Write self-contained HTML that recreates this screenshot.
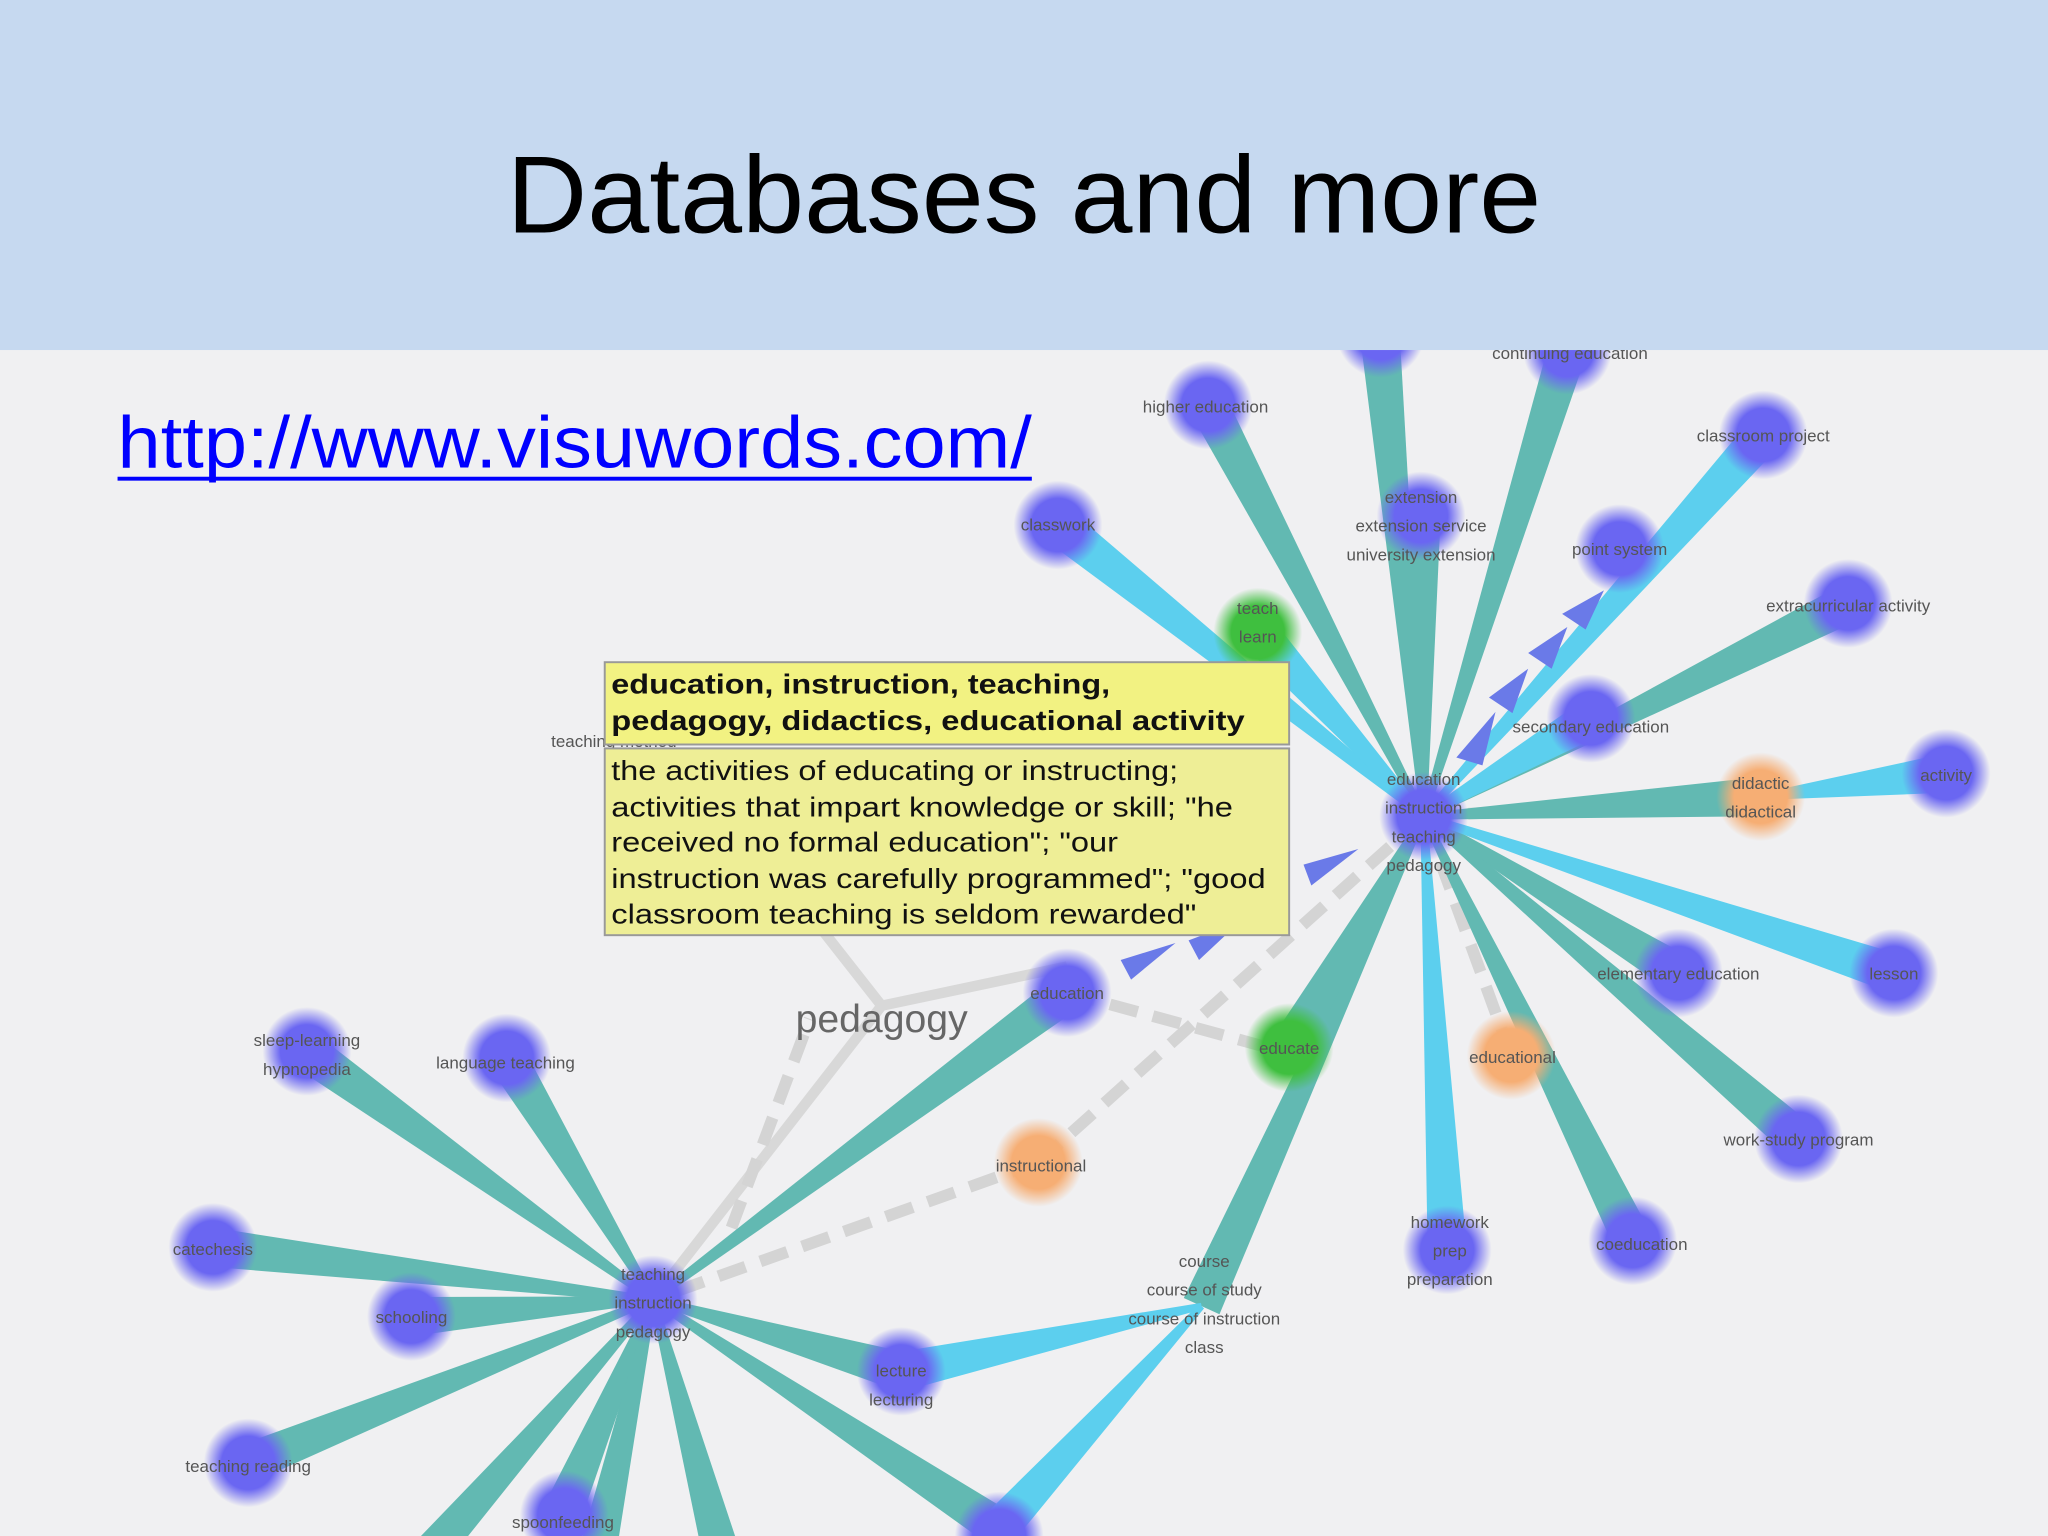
<!DOCTYPE html>
<html><head><meta charset="utf-8"><style>
html,body{margin:0;padding:0;background:#f0f0f2;}
svg{display:block}
text{font-family:"Liberation Sans",sans-serif}
.l{font-size:13px;fill:#555;text-anchor:middle}
</style></head><body>
<svg id="s" width="2048" height="1536" viewBox="0 0 1568 1176" xmlns="http://www.w3.org/2000/svg">
<defs>
<radialGradient id="pb"><stop offset="0.6" stop-color="#6a66f2"/><stop offset="1" stop-color="#6a66f2" stop-opacity="0"/></radialGradient>
<radialGradient id="gr"><stop offset="0.6" stop-color="#3fbf3f"/><stop offset="1" stop-color="#3fbf3f" stop-opacity="0"/></radialGradient>
<radialGradient id="or"><stop offset="0.6" stop-color="#f6ae74"/><stop offset="1" stop-color="#f6ae74" stop-opacity="0"/></radialGradient>
</defs>
<rect width="1568" height="1176" fill="#f0f0f2"/>
<g stroke="#d8d8d8" stroke-width="8" fill="none">
<line x1="675" y1="770" x2="500" y2="995"/>
<line x1="675" y1="770" x2="620" y2="700"/>
<line x1="675" y1="770" x2="817" y2="740"/>
</g>
<g stroke="#d4d4d4" stroke-width="9" stroke-dasharray="22,12" fill="none">
<line x1="795" y1="890" x2="500" y2="995"/>
<line x1="795" y1="890" x2="1090" y2="625"/>
<line x1="1157" y1="808" x2="1090" y2="625"/>
<line x1="817" y1="760" x2="1000" y2="810"/>
<line x1="1090" y1="625" x2="1348" y2="610"/>
<line x1="560" y1="940" x2="620" y2="780"/>
<line x1="1000" y1="520" x2="1090" y2="625"/>
</g>
<g id="edges"></g>
<g fill="#6a7ae8">
<polygon points="1228,452 1196,470 1214,482"/>
<polygon points="1200,480 1170,500 1188,512"/>
<polygon points="1170,512 1140,534 1158,546"/>
<polygon points="1145,545 1115,580 1135,586"/>
<polygon points="900,722 858,735 866,750"/>
<polygon points="950,705 910,720 918,735"/>
<polygon points="1040,650 998,662 1004,678"/>
</g>
<g>
<circle cx="1090" cy="625" r="34" fill="url(#pb)"/>
<circle cx="500" cy="995" r="34" fill="url(#pb)"/>
<circle cx="1057" cy="255" r="34" fill="url(#pb)"/>
<circle cx="1200" cy="268" r="34" fill="url(#pb)"/>
<circle cx="925" cy="310" r="34" fill="url(#pb)"/>
<circle cx="1350" cy="333" r="34" fill="url(#pb)"/>
<circle cx="810" cy="402" r="34" fill="url(#pb)"/>
<circle cx="1088" cy="395" r="34" fill="url(#pb)"/>
<circle cx="1240" cy="420" r="34" fill="url(#pb)"/>
<circle cx="1415" cy="462" r="34" fill="url(#pb)"/>
<circle cx="1218" cy="550" r="34" fill="url(#pb)"/>
<circle cx="1490" cy="592" r="34" fill="url(#pb)"/>
<circle cx="1450" cy="745" r="34" fill="url(#pb)"/>
<circle cx="1285" cy="745" r="34" fill="url(#pb)"/>
<circle cx="1377" cy="872" r="34" fill="url(#pb)"/>
<circle cx="1250" cy="950" r="34" fill="url(#pb)"/>
<circle cx="1108" cy="957" r="34" fill="url(#pb)"/>
<circle cx="817" cy="760" r="34" fill="url(#pb)"/>
<circle cx="235" cy="805" r="34" fill="url(#pb)"/>
<circle cx="388" cy="810" r="34" fill="url(#pb)"/>
<circle cx="163" cy="955" r="34" fill="url(#pb)"/>
<circle cx="315" cy="1008" r="34" fill="url(#pb)"/>
<circle cx="190" cy="1120" r="34" fill="url(#pb)"/>
<circle cx="432" cy="1160" r="34" fill="url(#pb)"/>
<circle cx="690" cy="1050" r="34" fill="url(#pb)"/>
<circle cx="765" cy="1176" r="34" fill="url(#pb)"/>
<circle cx="963" cy="484" r="34" fill="url(#gr)"/>
<circle cx="987" cy="802" r="34" fill="url(#gr)"/>
<circle cx="1348" cy="610" r="34" fill="url(#or)"/>
<circle cx="1157" cy="808" r="34" fill="url(#or)"/>
<circle cx="795" cy="890" r="34" fill="url(#or)"/>
</g>
<g class="l">
<text x="1202" y="275">continuing education</text>
<text x="923" y="316">higher education</text>
<text x="1350" y="338">classroom project</text>
<text x="810" y="406">classwork</text>
<text x="1088" y="385">extension</text>
<text x="1088" y="407">extension service</text>
<text x="1088" y="429">university extension</text>
<text x="1240" y="425">point system</text>
<text x="963" y="470">teach</text>
<text x="963" y="492">learn</text>
<text x="1415" y="468">extracurricular activity</text>
<text x="1218" y="561">secondary education</text>
<text x="1090" y="601">education</text>
<text x="1090" y="623">instruction</text>
<text x="1090" y="645">teaching</text>
<text x="1090" y="667">pedagogy</text>
<text x="1348" y="604">didactic</text>
<text x="1348" y="626">didactical</text>
<text x="1490" y="598">activity</text>
<text x="1450" y="750">lesson</text>
<text x="1285" y="750">elementary education</text>
<text x="1377" y="877">work-study program</text>
<text x="1158" y="814">educational</text>
<text x="987" y="807">educate</text>
<text x="1257" y="957">coeducation</text>
<text x="1110" y="940">homework</text>
<text x="1110" y="962">prep</text>
<text x="1110" y="984">preparation</text>
<text x="922" y="970">course</text>
<text x="922" y="992">course of study</text>
<text x="922" y="1014">course of instruction</text>
<text x="922" y="1036">class</text>
<text x="817" y="765">education</text>
<text x="797" y="897">instructional</text>
<text x="235" y="801">sleep-learning</text>
<text x="235" y="823">hypnopedia</text>
<text x="387" y="818">language teaching</text>
<text x="163" y="961">catechesis</text>
<text x="315" y="1013">schooling</text>
<text x="190" y="1127">teaching reading</text>
<text x="431" y="1170">spoonfeeding</text>
<text x="690" y="1054">lecture</text>
<text x="690" y="1076">lecturing</text>
<text x="500" y="980">teaching</text>
<text x="500" y="1002">instruction</text>
<text x="500" y="1024">pedagogy</text>
<text x="470" y="572">teaching method</text>
</g>
<text x="675" y="790" font-size="30" fill="#666" text-anchor="middle">pedagogy</text>
<rect x="463" y="507" width="524" height="63" fill="#f2f282" stroke="#999" stroke-width="1.5"/>
<rect x="463" y="573" width="524" height="143" fill="#eeee96" stroke="#999" stroke-width="1.5"/>
<g font-size="21.5" fill="#111" lengthAdjust="spacingAndGlyphs">
<text x="468" y="531" font-weight="bold" textLength="382" lengthAdjust="spacingAndGlyphs">education, instruction, teaching,</text>
<text x="468" y="559" font-weight="bold" textLength="485" lengthAdjust="spacingAndGlyphs">pedagogy, didactics, educational activity</text>
<text x="468" y="597" textLength="434" lengthAdjust="spacingAndGlyphs">the activities of educating or instructing;</text>
<text x="468" y="625" textLength="476" lengthAdjust="spacingAndGlyphs">activities that impart knowledge or skill; "he</text>
<text x="468" y="652" textLength="388" lengthAdjust="spacingAndGlyphs">received no formal education"; "our</text>
<text x="468" y="680" textLength="501" lengthAdjust="spacingAndGlyphs">instruction was carefully programmed"; "good</text>
<text x="468" y="707" textLength="448" lengthAdjust="spacingAndGlyphs">classroom teaching is seldom rewarded"</text>
</g>
<rect x="0" y="0" width="1568" height="268" fill="#c6d9f0"/>
<text x="784" y="178" font-size="84" fill="#000" text-anchor="middle" textLength="792" lengthAdjust="spacingAndGlyphs">Databases and more</text>
<text x="90" y="358" font-size="56" fill="#0000ff" textLength="700" lengthAdjust="spacingAndGlyphs">http://www.visuwords.com/</text>
<rect x="90" y="365" width="700" height="3" fill="#0000ff"/>
</svg>
<script>
var T="#62b9b2",B="#5ccfee";
var E=[
[1057,262,1090,625,T],[1200,268,1090,625,T],[925,310,1090,625,T],[1088,395,1090,625,T],
[1415,462,1090,625,T],[1348,610,1090,625,T],[1285,745,1090,625,T],[1377,872,1090,625,T],
[1250,950,1090,625,T],[920,1000,1090,625,T],[987,802,1090,625,T],
[1350,333,1090,625,B],[810,402,1090,625,B],[1218,550,1090,625,B],[1450,745,1090,625,B],
[1108,957,1090,625,B],[1490,592,1348,610,B],[963,484,1090,625,B],
[235,805,500,995,T],[388,810,500,995,T],[163,955,500,995,T],[315,1008,500,995,T],
[190,1120,500,995,T],[432,1155,500,995,T],[320,1200,500,995,T],[455,1200,500,995,T],
[555,1200,500,995,T],[690,1050,500,995,T],[765,1170,500,995,T],[817,760,500,995,T],
[690,1050,920,1000,B],[765,1170,920,1000,B]];
var g=document.getElementById("edges"),ns="http://www.w3.org/2000/svg";
E.forEach(function(e){
 var x1=e[0],y1=e[1],x2=e[2],y2=e[3],dx=x2-x1,dy=y2-y1,L=Math.hypot(dx,dy),nx=-dy/L,ny=dx/L,w1=15,w2=2.5;
 var p=document.createElementNS(ns,"polygon");
 p.setAttribute("points",[x1+nx*w1,y1+ny*w1,x2+nx*w2,y2+ny*w2,x2-nx*w2,y2-ny*w2,x1-nx*w1,y1-ny*w1].join(" "));
 p.setAttribute("fill",e[4]);g.appendChild(p);
});
</script>
</body></html>
